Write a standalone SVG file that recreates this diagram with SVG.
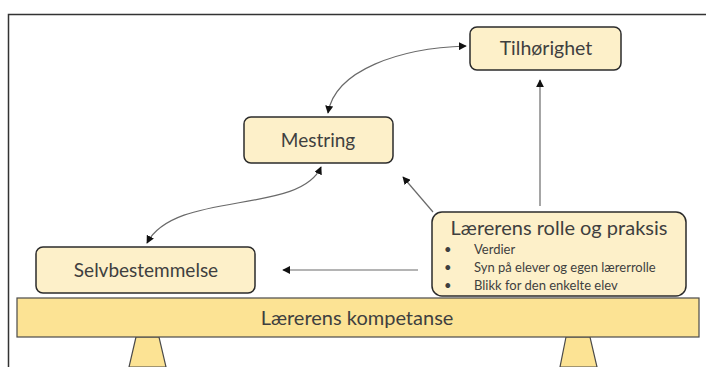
<svg xmlns="http://www.w3.org/2000/svg" width="706" height="367" viewBox="0 0 706 367">
<defs>
<marker id="ah" viewBox="0 0 10 10" refX="9" refY="5" markerWidth="8" markerHeight="8" markerUnits="userSpaceOnUse" orient="auto-start-reverse">
<path d="M0,0 L10,5 L0,10 z" fill="#111"/>
</marker>
<style>
.box{fill:#FDF0C9;stroke:#2b2b2b;stroke-width:1.5}
.bar{fill:#FCE394;stroke:#4a4a4a;stroke-width:1.2}
.t{font-family:Lato,"Liberation Sans",sans-serif;fill:#3f3f3f;text-anchor:middle}
.b{font-family:Lato,"Liberation Sans",sans-serif;fill:#3f3f3f;font-size:13px}
.c{fill:none;stroke:#6a6a6a;stroke-width:1.2}
</style>
</defs>
<rect width="706" height="367" fill="#fff"/>
<path d="M8.5,367 V14.5 H706" fill="none" stroke="#333" stroke-width="1.5"/>
<g id="connectors">
<path class="c" d="M328,113 C335,70 400,48 466,46" marker-start="url(#ah)" marker-end="url(#ah)"/>
<path class="c" d="M321,167 C300,215 175,190 147,243" marker-start="url(#ah)" marker-end="url(#ah)"/>
<path class="c" d="M418,270 H283" marker-end="url(#ah)"/>
<path class="c" d="M433,212 L403,177" marker-end="url(#ah)"/>
<path class="c" d="M540,206 V80" marker-end="url(#ah)"/>
</g>
<g id="tilhorighet">
<rect class="box" x="470" y="27" width="151" height="43" rx="7"/>
<text class="t" x="546" y="55" font-size="19.5">Tilhørighet</text>
</g>
<g id="mestring">
<rect class="box" x="244" y="117" width="149" height="46" rx="7"/>
<text class="t" x="318" y="147" font-size="19">Mestring</text>
</g>
<g id="selvbestemmelse">
<rect class="box" x="36" y="247" width="219" height="46" rx="7"/>
<text class="t" x="146" y="277" font-size="19">Selvbestemmelse</text>
</g>
<g id="laererens-rolle">
<rect class="box" x="432" y="212" width="254" height="84" rx="10"/>
<text class="t" x="559" y="235" font-size="20">Lærerens rolle og praksis</text>
<text class="b" x="444" y="254">•</text><text class="b" x="474" y="254">Verdier</text>
<text class="b" x="444" y="272">•</text><text class="b" x="474" y="272">Syn på elever og egen lærerrolle</text>
<text class="b" x="444" y="290">•</text><text class="b" x="474" y="290">Blikk for den enkelte elev</text>
</g>
<g id="kompetanse">
<path class="bar" d="M136,337 L129,367 L166,367 L159,337 z"/>
<path class="bar" d="M566,337 L560,367 L597,367 L590,337 z"/>
<rect class="bar" x="17" y="298" width="682" height="39"/>
<text class="t" x="357" y="325" font-size="20">Lærerens kompetanse</text>
</g>
</svg>
